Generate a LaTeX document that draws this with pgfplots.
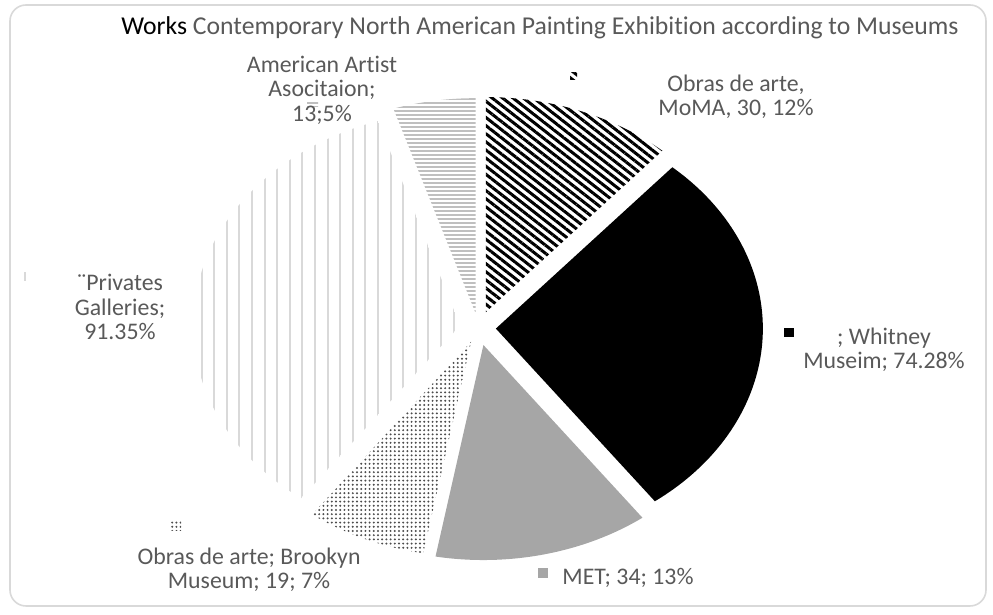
\documentclass[border=0pt]{standalone}
\usepackage{pgfplots}
\pgfplotsset{compat=1.18}
\usepackage{pgfplotstable}
\usetikzlibrary{patterns.meta}
\usepackage{fontspec}
\setmainfont{Carlito}[Ligatures=NoCommon]

\definecolor{txt}{HTML}{595959}
\definecolor{frame}{HTML}{D9D9D9}
\definecolor{metgray}{HTML}{A6A6A6}

% works per museum; explode = slice offset (px)
\pgfplotstableread{
name     value explode
MoMA     30    17
Whitney  74    14
MET      34    17.5
Brooklyn 19    15
Private  91    15
AAA      13    15
}\piedata

\tikzset{
  sl0/.style={pattern={Lines[angle=-38,distance=3.2pt,line width=1.5pt]},pattern color=black},
  sl1/.style={fill=black},
  sl2/.style={fill=metgray},
  sl3/.style={pattern={Dots[distance=2.1pt,radius=0.55pt]},pattern color=black!70},
  sl4/.style={pattern={Lines[angle=90,distance=6.3pt,line width=1pt]},pattern color=frame},
  sl5/.style={pattern={Lines[angle=0,distance=2pt,line width=0.7pt]},pattern color=black!25},
  lbl/.style={text=txt,align=center,font=\fontsize{11.9}{12.2}\selectfont,inner sep=0pt},
}

% slice geometry (pixel units of the reference)
\def\cx{478.5}\def\cy{287}\def\rx{267}\def\ry{215}
\newcommand\slicecalc{%
  \xdef\tot{0}%
  \foreach \i in {0,...,5}{%
    \pgfplotstablegetelem{\i}{value}\of\piedata
    \pgfmathparse{\tot+\pgfplotsretval}\xdef\tot{\pgfmathresult}}%
  \xdef\cum{0}%
  \foreach \i in {0,...,5}{%
    \pgfplotstablegetelem{\i}{value}\of\piedata \edef\vv{\pgfplotsretval}%
    \pgfplotstablegetelem{\i}{explode}\of\piedata \edef\ee{\pgfplotsretval}%
    \pgfmathsetmacro\aA{90-\cum/\tot*360}%
    \pgfmathsetmacro\aB{\aA-\vv/\tot*360}%
    \pgfmathsetmacro\am{(\aA+\aB)/2}%
    \pgfmathsetmacro\px{\cx+\ee*\rx/\ry*cos(\am)}%
    \pgfmathsetmacro\py{\cy+\ee*sin(\am)}%
    \pgfmathsetmacro\qx{\px+\rx*cos(\aA)}%
    \pgfmathsetmacro\qy{\py+\ry*sin(\aA)}%
    \expandafter\xdef\csname saA\i\endcsname{\aA}%
    \expandafter\xdef\csname saB\i\endcsname{\aB}%
    \expandafter\xdef\csname spx\i\endcsname{\px}%
    \expandafter\xdef\csname spy\i\endcsname{\py}%
    \expandafter\xdef\csname sqx\i\endcsname{\qx}%
    \expandafter\xdef\csname sqy\i\endcsname{\qy}%
    \pgfmathparse{\cum+\vv}\xdef\cum{\pgfmathresult}%
  }%
}

\begin{document}
\slicecalc
\begin{tikzpicture}
\begin{axis}[
  width=496.5pt, height=307.5pt, scale only axis,
  xmin=0, xmax=993, ymin=0, ymax=615,
  hide axis, clip=false,
]
\path (axis cs:0,0) rectangle (axis cs:993,615);
\draw[frame,line width=0.8pt,rounded corners=8pt] (axis cs:10,9) rectangle (axis cs:986,610);
\pgfplotsinvokeforeach{0,...,5}{
  \fill[sl#1] (axis cs:\csname spx#1\endcsname,\csname spy#1\endcsname)
    -- (axis cs:\csname sqx#1\endcsname,\csname sqy#1\endcsname)
    arc[start angle=\csname saA#1\endcsname, end angle=\csname saB#1\endcsname,
        x radius=133.5pt, y radius=107.5pt] -- cycle;
}
% legend keys beside the labels
\fill[sl0] (axis cs:570,535) rectangle (axis cs:577,542);
\fill[sl1] (axis cs:784,278) rectangle (axis cs:794,287);
\fill[sl2] (axis cs:538,37) rectangle (axis cs:548,47);
\fill[sl3] (axis cs:171,84) rectangle (axis cs:181,93);
\fill[sl4] (axis cs:24,334) rectangle (axis cs:31,342);
\fill[sl5] (axis cs:307,508) rectangle (axis cs:318,513);
\node[font=\fontsize{12.85}{14}\selectfont,inner sep=0pt] at (axis cs:540,587)
  {Works \textcolor{txt}{Contemporary North American Painting Exhibition according to Museums}};
\node[lbl] at (axis cs:736,518) {Obras de arte,\\MoMA, 30, 12\%};
\node[lbl] at (axis cs:884,265) {; Whitney\\Museim; 74.28\%};
\node[lbl] at (axis cs:628,37) {MET; 34; 13\%};
\node[lbl] at (axis cs:249,45) {Obras de arte; Brookyn\\Museum; 19; 7\%};
\node[lbl] at (axis cs:120,308) {¨Privates\\Galleries;\\91.35\%};
\node[lbl] at (axis cs:322,525) {American Artist\\Asocitaion;\\13;5\%};
\end{axis}
\end{tikzpicture}
\end{document}
